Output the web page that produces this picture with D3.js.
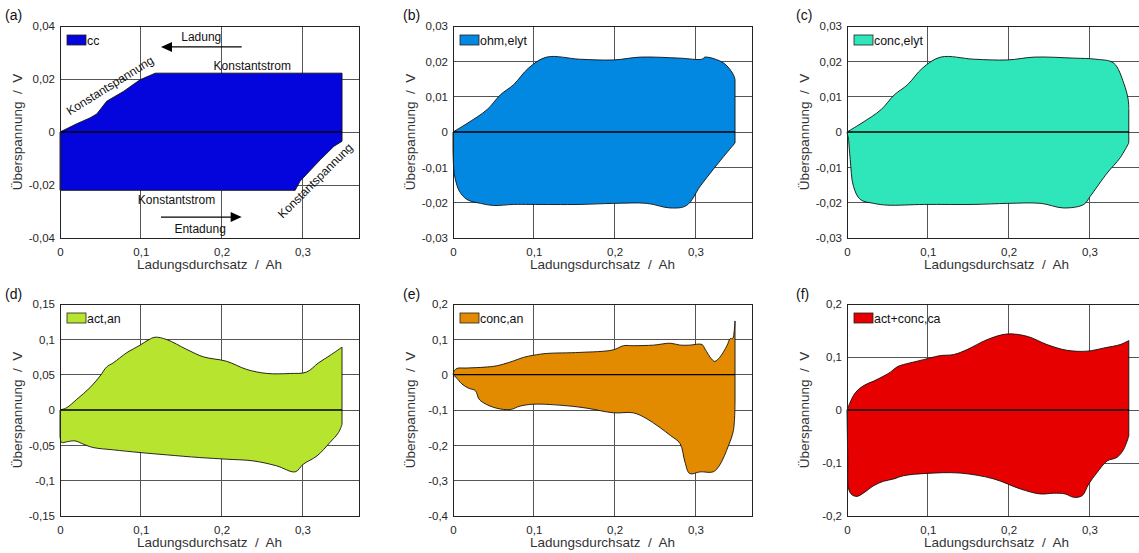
<!DOCTYPE html>
<html><head><meta charset="utf-8">
<script src="https://cdn.jsdelivr.net/npm/d3@7"></script>
<style>
body{margin:0;background:#fff;}
svg{display:block;font-family:"Liberation Sans",Arial,sans-serif;}
text{white-space:pre;}
</style></head><body>
<svg id="chart" width="1139" height="553"></svg>
<script>
// ---------- data ----------
const xTicks = [0, 0.1, 0.2, 0.3];
const xMax = 0.37;
const yTicksA = [-0.04, -0.02, 0, 0.02, 0.04];
const yTicksB = [-0.03, -0.02, -0.01, 0, 0.01, 0.02, 0.03];
const yTicksC = [-0.03, -0.02, -0.01, 0, 0.01, 0.02, 0.03];
const yTicksD = [-0.15, -0.1, -0.05, 0, 0.05, 0.1, 0.15];
const yTicksE = [-0.4, -0.3, -0.2, -0.1, 0, 0.1, 0.2];
const yTicksF = [-0.2, -0.1, 0, 0.1, 0.2];

// charge branch (left -> right, ends at top-right corner),
// discharge branch (right -> left, starts at bottom-right corner); [Ah, V]
const ccCharge = [[0,0],[0.01,0.0015],[0.02,0.003],[0.037,0.0053],[0.0455,0.0068],[0.0578,0.0116],[0.0785,0.0153],[0.099,0.0197],[0.118,0.0222],[0.2,0.0222],[0.3,0.0222],[0.349,0.0222]];
const ccDischarge = [[0.349,-0.0035],[0.339,-0.0054],[0.322,-0.0105],[0.297,-0.0186],[0.291,-0.022],[0.2,-0.022],[0.1,-0.022],[0,-0.022]];

const ohmCharge = [[0,0],[0.0173,0.0024],[0.042,0.0063],[0.0585,0.0105],[0.075,0.0134],[0.0935,0.0181],[0.116,0.0212],[0.157,0.0206],[0.199,0.0204],[0.232,0.0212],[0.281,0.0209],[0.308,0.0206],[0.312,0.0212],[0.335,0.0195],[0.347,0.0162],[0.349,0.0148]];
const ohmDischarge = [[0.349,-0.0031],[0.3387,-0.0059],[0.322,-0.0106],[0.306,-0.0153],[0.289,-0.0208],[0.2687,-0.0215],[0.24,-0.0202],[0.199,-0.0202],[0.157,-0.0205],[0.0956,-0.0205],[0.075,-0.0205],[0.05,-0.0208],[0.034,-0.0202],[0.0173,-0.0191],[0.008,-0.0168],[0.003,-0.0135],[0.001,-0.0106],[0,-0.005]];

const concElytCharge = [[0,0],[0.0173,0.0024],[0.042,0.0063],[0.0585,0.0105],[0.075,0.0134],[0.0935,0.0181],[0.116,0.0212],[0.157,0.0206],[0.199,0.0204],[0.232,0.0212],[0.281,0.0209],[0.308,0.0206],[0.33,0.0195],[0.3425,0.0138],[0.348,0.0091],[0.3487,0.0063]];
const concElytDischarge = [[0.3487,-0.0031],[0.338,-0.0073],[0.322,-0.0116],[0.301,-0.0182],[0.293,-0.0205],[0.268,-0.0215],[0.24,-0.0202],[0.199,-0.0202],[0.157,-0.0205],[0.0956,-0.0205],[0.05,-0.0207],[0.033,-0.0202],[0.0165,-0.0191],[0.008,-0.0154],[0.004,-0.0078],[0.002,-0.0022]];

const actAnCharge = [[0,0],[0.0083,0.0033],[0.0206,0.015],[0.037,0.0315],[0.0495,0.048],[0.0578,0.061],[0.066,0.0668],[0.0825,0.081],[0.099,0.0917],[0.109,0.0988],[0.1176,0.103],[0.132,0.0997],[0.157,0.0856],[0.1775,0.0752],[0.206,0.069],[0.231,0.0574],[0.256,0.0517],[0.285,0.0517],[0.305,0.0536],[0.32,0.0668],[0.334,0.0771],[0.349,0.089]];
const actAnDischarge = [[0.349,-0.0202],[0.3446,-0.032],[0.334,-0.046],[0.318,-0.065],[0.301,-0.0767],[0.291,-0.0875],[0.268,-0.079],[0.239,-0.072],[0.206,-0.0696],[0.173,-0.0673],[0.132,-0.0635],[0.099,-0.0602],[0.066,-0.0564],[0.041,-0.0531],[0.029,-0.0484],[0.0186,-0.0437],[0.0083,-0.045],[0.002,-0.046],[0,-0.037]];

const concAnCharge = [[0,0],[0.0016,0.0113],[0.005,0.0178],[0.0173,0.0188],[0.05,0.0235],[0.0626,0.03],[0.075,0.039],[0.087,0.0488],[0.0997,0.055],[0.116,0.06],[0.157,0.063],[0.198,0.07],[0.211,0.082],[0.223,0.082],[0.248,0.0836],[0.269,0.089],[0.281,0.0836],[0.293,0.0836],[0.308,0.0855],[0.312,0.072],[0.32,0.044],[0.324,0.0376],[0.33,0.0488],[0.339,0.082],[0.343,0.102],[0.346,0.102],[0.348,0.124],[0.349,0.152]];
const concAnDischarge = [[0.349,-0.078],[0.347,-0.158],[0.341,-0.2],[0.33,-0.256],[0.322,-0.275],[0.306,-0.275],[0.293,-0.28],[0.287,-0.247],[0.281,-0.195],[0.269,-0.172],[0.24,-0.125],[0.223,-0.108],[0.199,-0.108],[0.166,-0.095],[0.141,-0.088],[0.0997,-0.0836],[0.083,-0.089],[0.071,-0.0986],[0.054,-0.095],[0.038,-0.08],[0.032,-0.0685],[0.0276,-0.045],[0.0194,-0.0385],[0.011,-0.0263],[0.005,-0.0103]];

const actConcCaCharge = [[0,0],[0.0033,0.0125],[0.0103,0.0326],[0.0206,0.046],[0.033,0.0545],[0.0454,0.064],[0.0537,0.0714],[0.062,0.0814],[0.07,0.0858],[0.0867,0.092],[0.1032,0.0983],[0.1156,0.1027],[0.132,0.1046],[0.1486,0.114],[0.1733,0.1327],[0.198,0.1434],[0.223,0.139],[0.2476,0.1234],[0.272,0.1127],[0.297,0.111],[0.318,0.117],[0.338,0.1234],[0.3487,0.131]];
const actConcCaDischarge = [[0.3487,-0.049],[0.3425,-0.074],[0.334,-0.0895],[0.322,-0.096],[0.3095,-0.118],[0.299,-0.14],[0.291,-0.1616],[0.2806,-0.1647],[0.27,-0.1584],[0.256,-0.157],[0.239,-0.1584],[0.2146,-0.149],[0.1816,-0.13],[0.14,-0.119],[0.099,-0.1196],[0.07,-0.124],[0.058,-0.13],[0.045,-0.1346],[0.033,-0.1428],[0.0206,-0.1565],[0.0124,-0.163],[0.0062,-0.16],[0.002,-0.149],[0.001,-0.105]];

const panelLabels = ["(a)", "(b)", "(c)", "(d)", "(e)", "(f)"];
const legendNames = ["cc", "ohm,elyt", "conc,elyt", "act,an", "conc,an", "act+conc,ca"];
const fillColors = ["#0404dc", "#0388e2", "#2ee6b9", "#b7e42e", "#e28a00", "#e60000"];
const xLabel = "Ladungsdurchsatz  /  Ah";
const yLabel = "Überspannung  /  V";

// ---------- layout ----------
const svg = d3.select("#chart");
const W = 299;
const lefts = [60, 453, 847];
const tops = [26, 304];
const H = 212;

const panels = [
  {charge: ccCharge, discharge: ccDischarge, ticks: yTicksA, smooth: false},
  {charge: ohmCharge, discharge: ohmDischarge, ticks: yTicksB, smooth: true},
  {charge: concElytCharge, discharge: concElytDischarge, ticks: yTicksC, smooth: true},
  {charge: actAnCharge, discharge: actAnDischarge, ticks: yTicksD, smooth: true},
  {charge: concAnCharge, discharge: concAnDischarge, ticks: yTicksE, smooth: true},
  {charge: actConcCaCharge, discharge: actConcCaDischarge, ticks: yTicksF, smooth: true}
];

const fmt = v => Math.abs(v) < 1e-9 ? "0" : String(+v.toFixed(3)).replace(".", ",");
const FONT = "Liberation Sans, Arial, sans-serif";

panels.forEach((p, i) => {
  const col = i % 3, row = Math.floor(i / 3);
  const x0 = lefts[col], y0 = tops[row];
  const yMin = d3.min(p.ticks), yMaxV = d3.max(p.ticks);
  const x = d3.scaleLinear().domain([0, xMax]).range([0, W]);
  const y = d3.scaleLinear().domain([yMin, yMaxV]).range([H, 0]);
  const g = svg.append("g").attr("transform", `translate(${x0},${y0})`);

  // grid
  g.append("g").selectAll("line").data(xTicks.filter(t => t > 0)).join("line")
    .attr("x1", d => x(d)).attr("x2", d => x(d)).attr("y1", 0).attr("y2", H)
    .attr("stroke", "#555").attr("stroke-width", 1).attr("shape-rendering", "crispEdges");
  g.append("g").selectAll("line").data(p.ticks.filter(t => t > yMin && t < yMaxV)).join("line")
    .attr("x1", 0).attr("x2", W).attr("y1", d => y(d)).attr("y2", d => y(d))
    .attr("stroke", "#555").attr("stroke-width", 1).attr("shape-rendering", "crispEdges");

  // area loop: smooth branches joined by straight vertical edges
  const line = d3.line().x(d => x(d[0])).y(d => y(d[1]))
    .curve(p.smooth ? d3.curveCatmullRom.alpha(0.5) : d3.curveLinear);
  const d = line(p.charge) + line(p.discharge).replace(/^M/, "L") + "Z";
  g.append("path").attr("d", d)
    .attr("fill", fillColors[i]).attr("stroke", "#111").attr("stroke-width", 0.9)
    .attr("stroke-linejoin", "round");

  // zero line
  g.append("line").attr("x1", x(0)).attr("x2", x(0.349)).attr("y1", y(0)).attr("y2", y(0))
    .attr("stroke", "#000").attr("stroke-width", 1.3);

  // box
  g.append("rect").attr("x", 0).attr("y", 0).attr("width", W).attr("height", H)
    .attr("fill", "none").attr("stroke", "#222").attr("stroke-width", 1).attr("shape-rendering", "crispEdges");

  // axes tick labels
  const xa = d3.axisBottom(x).tickValues(xTicks).tickFormat(fmt).tickSize(0).tickPadding(10);
  const xg = g.append("g").attr("transform", `translate(0,${H})`).call(xa);
  xg.select(".domain").remove();
  xg.selectAll("text").attr("font-size", 11.5).attr("fill", "#262626").attr("font-family", FONT);
  const ya = d3.axisLeft(y).tickValues(p.ticks).tickFormat(fmt).tickSize(0).tickPadding(5);
  const yg = g.append("g").call(ya);
  yg.select(".domain").remove();
  yg.selectAll("text").attr("font-size", 11.5).attr("fill", "#262626").attr("font-family", FONT);

  // axis labels
  g.append("text").attr("x", W / 2).attr("y", H + 31).attr("text-anchor", "middle")
    .attr("font-size", 13.5).attr("fill", "#333").text(xLabel);
  g.append("text").attr("transform", `translate(-38,${H / 2}) rotate(-90)`)
    .attr("text-anchor", "middle").attr("font-size", 13.5).attr("fill", "#333").text(yLabel);

  // panel label
  g.append("text").attr("x", [5, 403, 796][col] - x0).attr("y", [20, 299][row] - y0)
    .attr("font-size", 14).attr("fill", "#111").text(panelLabels[i]);

  // legend
  g.append("rect").attr("x", 7).attr("y", 9).attr("width", 19).attr("height", 10)
    .attr("fill", fillColors[i]).attr("stroke", "#222").attr("stroke-width", 0.8);
  g.append("text").attr("x", 27).attr("y", 18.5).attr("font-size", 12.4).attr("fill", "#111")
    .text(legendNames[i]);

  // annotations for panel (a)
  if (i === 0) {
    const ann = g.append("g").attr("font-size", 12).attr("fill", "#111");
    ann.append("text").attr("x", x(0.15)).attr("y", y(0.0345)).text("Ladung");
    ann.append("text").attr("x", x(0.19)).attr("y", y(0.0235)).text("Konstantstrom");
    ann.append("text").attr("x", x(0.0963)).attr("y", y(-0.0271)).text("Konstantstrom");
    ann.append("text").attr("x", x(0.1416)).attr("y", y(-0.038)).text("Entadung");
    ann.append("text").attr("text-anchor", "middle")
      .attr("transform", `translate(${x(0.062)},${y(0.0175)}) rotate(-32)`).attr("dy", 4).text("Konstantspannung");
    ann.append("text").attr("text-anchor", "middle")
      .attr("transform", `translate(${x(0.316)},${y(-0.0184)}) rotate(-45)`).attr("dy", 4).text("Konstantspannung");
    const arrow = (qFrom, qTo, v) => {
      const xa1 = x(qFrom), xa2 = x(qTo), yy = y(v);
      const dir = Math.sign(xa2 - xa1);
      g.append("line").attr("x1", xa1).attr("x2", xa2 - dir * 8).attr("y1", yy).attr("y2", yy)
        .attr("stroke", "#000").attr("stroke-width", 1.2);
      g.append("path").attr("d", `M${xa2},${yy} L${xa2 - dir * 11},${yy - 5} L${xa2 - dir * 11},${yy + 5} Z`)
        .attr("fill", "#000");
    };
    arrow(0.2248, 0.125, 0.0321);
    arrow(0.125, 0.2248, -0.0321);
  }
});
</script>
</body></html>
